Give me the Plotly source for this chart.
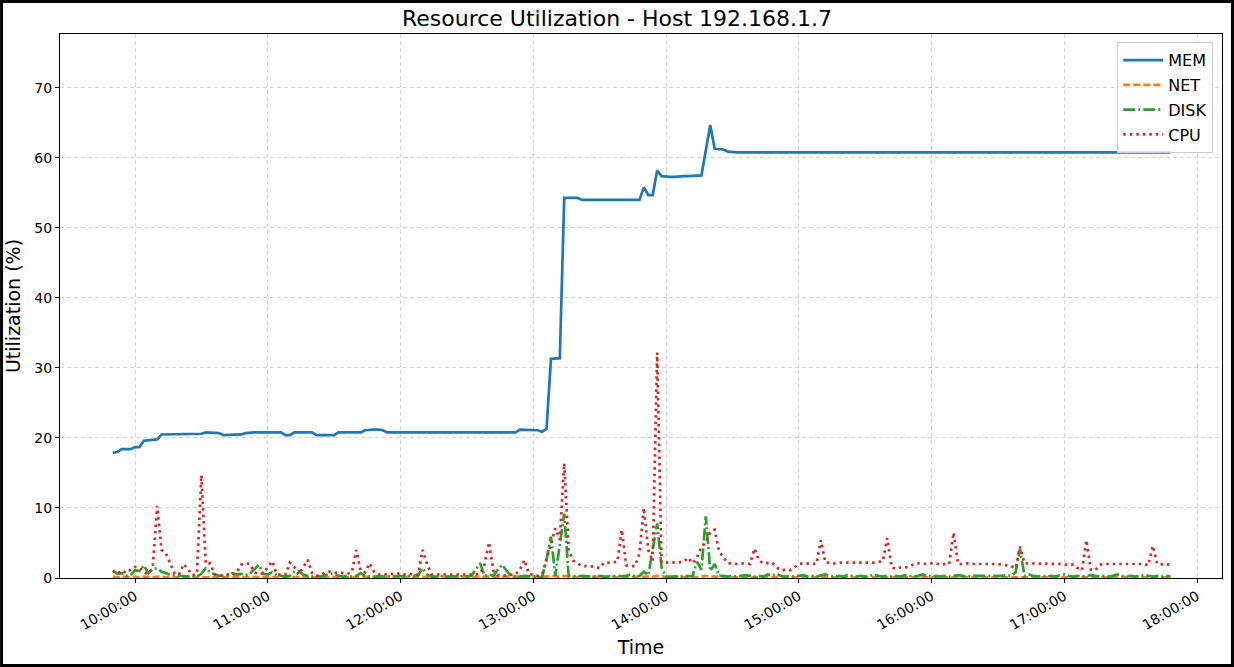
import pandas as pd
import plotly.graph_objects as go

# samples every 2 minutes, 09:50 -> 17:48
times = pd.date_range('2024-01-01 09:50:00', periods=240, freq='2min')

mem = [
    17.9, 18.0, 18.4, 18.4, 18.4, 18.7, 18.7, 19.6, 19.7, 19.8, 19.8, 20.5, 20.5, 20.5, 20.5, 20.5, 20.5, 20.6, 20.6, 20.6,
    20.6, 20.8, 20.8, 20.8, 20.7, 20.4, 20.4, 20.4, 20.4, 20.5, 20.7, 20.8, 20.8, 20.8, 20.8, 20.8, 20.8, 20.8, 20.8, 20.4,
    20.4, 20.8, 20.8, 20.8, 20.8, 20.8, 20.4, 20.4, 20.4, 20.4, 20.4, 20.8, 20.8, 20.8, 20.8, 20.8, 20.8, 21.1, 21.2, 21.2,
    21.2, 21.1, 20.8, 20.8, 20.8, 20.8, 20.8, 20.8, 20.8, 20.8, 20.8, 20.8, 20.8, 20.8, 20.8, 20.8, 20.8, 20.8, 20.8, 20.8,
    20.8, 20.8, 20.8, 20.8, 20.8, 20.8, 20.8, 20.8, 20.8, 20.8, 20.8, 20.8, 21.2, 21.2, 21.2, 21.2, 21.1, 20.9, 21.3, 31.3,
    31.3, 31.4, 54.3, 54.3, 54.3, 54.3, 54.0, 54.0, 54.0, 54.0, 54.0, 54.0, 54.0, 54.0, 54.0, 54.0, 54.0, 54.0, 54.0, 54.0,
    55.8, 54.7, 54.7, 58.2, 57.4, 57.3, 57.3, 57.3, 57.4, 57.4, 57.4, 57.4, 57.4, 57.5, 61.1, 64.7, 61.3, 61.3, 61.2, 60.9,
    60.8, 60.8, 60.8, 60.8, 60.8, 60.8, 60.8, 60.8, 60.8, 60.8, 60.8, 60.8, 60.8, 60.8, 60.8, 60.8, 60.8, 60.8, 60.8, 60.8,
    60.8, 60.8, 60.7, 60.7, 60.8, 60.8, 60.8, 60.8, 60.8, 60.8, 60.8, 60.8, 60.7, 60.7, 60.7, 60.7, 60.8, 60.8, 60.8, 60.8,
    60.8, 60.8, 60.8, 60.8, 60.8, 60.8, 60.8, 60.8, 60.8, 60.8, 60.8, 60.8, 60.8, 60.8, 60.8, 60.8, 60.8, 60.8, 60.8, 60.8,
    60.8, 60.8, 60.8, 60.8, 60.8, 60.8, 60.8, 60.8, 60.8, 60.8, 60.8, 60.8, 60.8, 60.8, 60.8, 60.8, 60.8, 60.8, 60.8, 60.8,
    60.8, 60.8, 60.8, 60.8, 60.8, 60.8, 60.8, 60.8, 60.8, 60.8, 60.8, 60.8, 60.8, 60.8, 60.8, 60.8, 60.8, 60.8, 60.8, 60.8,
]

net = [
    0.2, 0.1, 0.2, 0.1, 0.1, 0.2, 0.1, 0.2, 0.1, 0.1, 0.2, 0.1, 0.1, 0.2, 0.1, 0.1, 0.1, 0.2, 0.1, 0.1,
    0.2, 0.1, 0.1, 0.1, 0.2, 0.1, 0.1, 0.1, 0.2, 0.1, 0.1, 0.2, 0.1, 0.1, 0.1, 0.2, 0.1, 0.1, 0.1, 0.2,
    0.1, 0.1, 0.2, 0.1, 0.1, 0.1, 0.1, 0.2, 0.1, 0.1, 0.1, 0.2, 0.1, 0.1, 0.1, 0.1, 0.2, 0.1, 0.1, 0.1,
    0.2, 0.1, 0.1, 0.1, 0.1, 0.2, 0.1, 0.1, 0.1, 0.1, 0.2, 0.1, 0.1, 0.1, 0.1, 0.2, 0.1, 0.1, 0.1, 0.1,
    0.2, 0.1, 0.1, 0.1, 0.2, 0.1, 0.1, 0.1, 0.1, 0.2, 0.1, 0.1, 0.1, 0.1, 0.2, 0.1, 0.1, 0.1, 0.2, 0.3,
    0.2, 0.2, 0.3, 0.2, 0.2, 0.1, 0.2, 0.1, 0.1, 0.2, 0.1, 0.1, 0.1, 0.2, 0.1, 0.1, 0.2, 0.1, 0.1, 0.2,
    0.2, 0.1, 0.2, 0.3, 0.2, 0.1, 0.1, 0.2, 0.1, 0.1, 0.1, 0.2, 0.1, 0.2, 0.3, 0.2, 0.2, 0.3, 0.2, 0.1,
    0.1, 0.2, 0.1, 0.1, 0.1, 0.2, 0.1, 0.1, 0.2, 0.1, 0.1, 0.1, 0.2, 0.1, 0.1, 0.1, 0.2, 0.1, 0.1, 0.1,
    0.2, 0.1, 0.1, 0.1, 0.2, 0.1, 0.1, 0.1, 0.1, 0.2, 0.1, 0.1, 0.1, 0.2, 0.1, 0.1, 0.1, 0.2, 0.1, 0.1,
    0.1, 0.2, 0.1, 0.1, 0.1, 0.2, 0.1, 0.1, 0.1, 0.2, 0.1, 0.1, 0.1, 0.1, 0.2, 0.1, 0.1, 0.1, 0.2, 0.1,
    0.1, 0.1, 0.2, 0.1, 0.1, 0.2, 0.1, 0.1, 0.1, 0.2, 0.1, 0.1, 0.1, 0.2, 0.1, 0.1, 0.1, 0.1, 0.2, 0.1,
    0.1, 0.1, 0.2, 0.1, 0.1, 0.1, 0.2, 0.1, 0.1, 0.1, 0.2, 0.1, 0.1, 0.1, 0.2, 0.1, 0.1, 0.1, 0.2, 0.1,
]

disk = [
    1.1, 0.6, 0.7, 0.3, 0.4, 1.1, 1.0, 1.8, 0.7, 1.3, 1.4, 0.9, 0.7, 0.4, 0.4, 0.3, 0.2, 0.2, 0.3, 0.2,
    0.6, 1.4, 0.8, 0.5, 0.3, 0.3, 0.4, 0.7, 0.5, 0.6, 0.4, 0.6, 1.2, 1.9, 0.6, 0.5, 0.8, 0.4, 0.3, 0.2,
    0.3, 0.9, 1.0, 0.5, 0.3, 0.2, 0.3, 0.2, 0.4, 0.6, 0.6, 0.3, 0.2, 0.3, 0.2, 0.3, 0.7, 0.3, 0.2, 0.2,
    0.3, 0.2, 0.3, 0.2, 0.2, 0.3, 0.2, 0.2, 0.3, 0.4, 1.4, 0.5, 0.2, 0.2, 0.3, 0.2, 0.2, 0.2, 0.3, 0.2,
    0.2, 0.3, 1.2, 2.1, 0.3, 0.5, 0.3, 1.2, 1.9, 1.0, 0.3, 0.2, 0.2, 0.3, 0.2, 0.2, 0.2, 0.1, 2.6, 5.9,
    0.3, 4.5, 9.2, 0.3, 0.2, 0.2, 0.3, 0.2, 0.2, 0.2, 0.3, 0.2, 0.2, 0.2, 0.3, 0.2, 0.3, 0.5, 0.2, 0.3,
    0.9, 0.4, 4.0, 7.8, 1.5, 0.2, 0.2, 0.2, 0.3, 0.2, 0.2, 0.3, 2.3, 1.2, 8.8, 1.0, 2.0, 0.3, 0.3, 0.2,
    0.3, 0.2, 0.3, 0.4, 0.3, 0.2, 0.3, 0.2, 0.5, 0.3, 0.6, 0.3, 0.2, 0.3, 0.2, 0.3, 0.4, 0.2, 0.3, 0.2,
    0.3, 0.5, 0.3, 0.2, 0.3, 0.2, 0.4, 0.3, 0.2, 0.3, 0.2, 0.3, 0.5, 0.3, 0.2, 0.3, 0.2, 0.3, 0.2, 0.4,
    0.3, 0.2, 0.3, 0.5, 0.3, 0.2, 0.3, 0.2, 0.3, 0.2, 0.3, 0.4, 0.3, 0.2, 0.3, 0.3, 0.2, 0.3, 0.2, 0.3,
    0.2, 0.3, 0.4, 0.3, 0.8, 4.2, 0.3, 0.5, 0.3, 0.2, 0.3, 0.2, 0.3, 0.2, 0.4, 0.5, 0.3, 0.2, 0.3, 0.2,
    0.3, 0.4, 0.3, 0.2, 0.3, 0.2, 0.3, 0.5, 0.3, 0.2, 0.3, 0.2, 0.3, 0.4, 0.3, 0.2, 0.3, 0.2, 0.3, 0.2,
]

cpu = [
    1.0, 0.6, 1.1, 0.7, 1.2, 1.6, 1.5, 0.8, 0.6, 1.5, 10.3, 4.0, 3.5, 1.9, 0.5, 0.6, 2.0, 1.2, 0.4, 0.6,
    14.7, 2.0, 2.1, 0.5, 0.4, 0.3, 0.5, 0.4, 0.8, 1.9, 2.1, 2.0, 0.8, 0.5, 0.7, 1.6, 2.4, 0.6, 0.4, 0.5,
    2.2, 1.6, 0.5, 1.5, 2.6, 0.7, 0.3, 0.4, 0.8, 0.9, 0.7, 0.8, 0.7, 0.6, 0.8, 4.0, 1.0, 0.8, 2.1, 0.9,
    0.5, 0.6, 0.5, 0.6, 0.5, 0.7, 0.5, 0.6, 0.5, 0.5, 4.0, 2.0, 0.5, 0.5, 0.4, 0.5, 0.4, 0.5, 0.4, 0.5,
    0.4, 0.5, 0.5, 0.6, 2.0, 5.1, 1.0, 0.4, 0.3, 0.4, 0.4, 0.5, 1.2, 2.6, 0.6, 0.4, 0.3, 0.5, 2.6, 5.0,
    7.1, 5.5, 16.4, 4.0, 2.5, 2.1, 1.7, 1.7, 1.7, 1.6, 1.4, 2.2, 2.2, 2.2, 2.3, 6.9, 1.8, 1.7, 1.7, 3.5,
    10.0, 4.0, 2.4, 32.2, 2.2, 2.2, 2.3, 2.2, 2.2, 2.3, 2.9, 2.1, 2.9, 4.5, 5.0, 6.6, 6.9, 3.8, 2.9, 2.1,
    2.1, 2.0, 2.1, 2.1, 2.0, 4.2, 2.5, 2.1, 2.1, 2.2, 1.5, 1.1, 1.2, 1.1, 1.5, 2.0, 2.1, 2.1, 2.1, 2.0,
    5.4, 2.2, 2.2, 2.1, 2.2, 2.2, 2.1, 2.2, 2.2, 2.2, 2.1, 2.2, 2.2, 2.3, 2.4, 5.7, 1.5, 1.3, 1.5, 1.5,
    1.6, 2.0, 2.1, 2.0, 2.1, 2.1, 2.1, 1.9, 2.0, 2.0, 6.5, 2.0, 2.0, 2.1, 2.0, 2.0, 2.1, 2.0, 2.1, 2.0,
    2.0, 1.9, 1.8, 1.7, 1.4, 4.5, 2.1, 2.1, 2.0, 2.1, 2.1, 2.0, 2.1, 2.1, 2.0, 1.9, 1.9, 1.9, 1.4, 1.1,
    5.4, 1.2, 1.1, 1.9, 2.0, 2.0, 2.1, 2.0, 2.0, 2.0, 2.1, 2.0, 2.0, 2.0, 1.8, 4.6, 2.0, 2.0, 2.0, 1.9,
]

series = [
    ('MEM', mem, '#1f77b4', 'solid'),
    ('NET', net, '#ff7f0e', '7px,3px'),
    ('DISK', disk, '#2ca02c', '12px,3px,2px,3px'),
    ('CPU', cpu, '#d62728', '2.5px,4px'),
]

fig = go.Figure()
for name, vals, color, dash in series:
    fig.add_trace(go.Scatter(
        x=times, y=vals, name=name, mode='lines',
        legendgroup=name,
        line=dict(color=color, width=2.7, dash=dash)
    ))

fig.update_layout(
    width=1234,
    height=667,
    margin={'t': 34, 'b': 89, 'l': 60, 'r': 12},
    paper_bgcolor='white',
    plot_bgcolor='white',
    font=dict(family='DejaVu Sans', size=14, color='black'),
    title=dict(
        text='Resource Utilization - Host 192.168.1.7',
        x=0.5, xanchor='center',
        y=0.972, yanchor='middle',
        font=dict(size=22)
    ),
    legend=dict(
        x=0.9925, xanchor='right',
        y=0.985, yanchor='top',
        bgcolor='rgba(255,255,255,0.8)',
        bordercolor='#cccccc', borderwidth=1,
        tracegroupgap=1,
        itemwidth=40,
        font=dict(size=16)
    ),
    # figure frame
    shapes=[dict(
        type='rect', xref='paper', yref='paper',
        x0=-0.0503, x1=1.0090, y0=-0.1608, y1=1.0597,
        line=dict(color='black', width=3)
    )]
)

fig.update_xaxes(
    type='date',
    range=['2024-01-01 09:26:06', '2024-01-01 18:11:18'],
    tick0='2024-01-01 10:00:00',
    dtick=3600000,
    tickformat='%H:%M:%S',
    tickangle=-30,
    ticks='outside', ticklen=4, tickcolor='black',
    showline=True, mirror=True, linecolor='black', linewidth=1,
    showgrid=True, gridcolor='#d4d4d4', griddash='4px,3px',
    zeroline=False,
    title=dict(text='Time', font=dict(size=19), standoff=8)
)
fig.update_yaxes(
    range=[0, 77.7],
    dtick=10,
    ticks='outside', ticklen=4, tickcolor='black',
    showline=True, mirror=True, linecolor='black', linewidth=1,
    showgrid=True, gridcolor='#d4d4d4', griddash='4px,3px',
    zeroline=False,
    title=dict(text='Utilization (%)', font=dict(size=19), standoff=8)
)

fig.write_html('out.html', config={'displayModeBar': False},
               post_script="document.body.style.margin='0px';")
